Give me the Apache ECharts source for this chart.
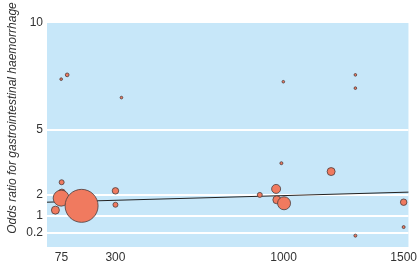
<!DOCTYPE html>
<html>
<head>
<meta charset="utf-8">
<script src="https://cdn.jsdelivr.net/npm/echarts@6/dist/echarts.min.js"></script>
<style>html,body{margin:0;padding:0;background:#fff}#c{width:420px;height:272px}</style>
</head>
<body>
<div id="c"></div>
<script>
// Study size (x), odds ratio (y), relative weight (bubble area)
const studyX = [74, 99, 325, 999, 1299, 1299, 76, 77, 74, 50, 159, 300, 300, 901, 991, 1198, 969, 972, 1002, 1500, 1500, 1299];
const oddsRatio = [7.38, 7.58, 6.52, 7.26, 7.58, 6.96, 2.57, 2.09, 1.83, 1.27, 1.47, 2.17, 1.52, 1.98, 3.46, 3.07, 2.26, 1.75, 1.59, 1.64, 0.48, 0.08];
const weight = [7, 14, 7, 7, 7, 7, 25, 49, 256, 64, 1089, 42, 25, 25, 9, 64, 81, 64, 169, 42, 9, 9];
// Regression line end points
const fitX = [15, 1520];
const fitY = [1.64, 2.11];
const xTicks = [75, 300, 1000, 1500];
const yTicks = [0.2, 1, 2, 5, 10];
const gridValues = [0.2, 1, 2, 5];
const yTitle = 'Odds ratio for gastrointestinal haemorrhage';

const chart = echarts.init(document.getElementById('c'), null, {renderer: 'canvas'});
const pts = studyX.map((x, i) => [x, oddsRatio[i], weight[i]]);
const font = 'Liberation Sans, Arial, sans-serif';
chart.setOption({
  animation: false,
  grid: {left: 47, top: 23, width: 363, height: 224, show: true, backgroundColor: '#c7e7f9', borderWidth: 0},
  xAxis: {
    type: 'value', min: 15, max: 1520,
    axisLine: {show: false}, axisTick: {show: false}, splitLine: {show: false},
    axisLabel: {customValues: xTicks, margin: 5, color: '#333', fontSize: 12, fontFamily: font, formatter: v => String(v)}
  },
  yAxis: {
    type: 'value', min: -0.45, max: 10,
    axisLine: {show: false}, axisTick: {show: false}, splitLine: {show: false},
    axisLabel: {customValues: yTicks, margin: 4, color: '#333', fontSize: 12, fontFamily: font, formatter: v => String(v)}
  },
  graphic: [{
    type: 'text', x: 13, y: 118, rotation: Math.PI / 2,
    style: {text: yTitle, fill: '#333', font: 'italic 12px ' + font, align: 'center', verticalAlign: 'middle'}
  }],
  series: [
    {
      type: 'line', data: [], z: 1,
      markLine: {
        silent: true, symbol: 'none', label: {show: false}, z: 1,
        lineStyle: {color: '#ffffff', width: 2, type: 'solid'},
        data: gridValues.map(v => ({yAxis: v}))
      }
    },
    {
      type: 'line', data: fitX.map((x, i) => [x, fitY[i]]), symbol: 'none',
      lineStyle: {color: '#222', width: 1}, z: 2
    },
    {
      type: 'scatter', data: pts, z: 3,
      symbolSize: d => Math.sqrt(d[2]),
      itemStyle: {color: '#f07a5f', borderColor: '#4a3c3c', borderWidth: 0.8, opacity: 1}
    }
  ]
});
</script>
</body>
</html>
